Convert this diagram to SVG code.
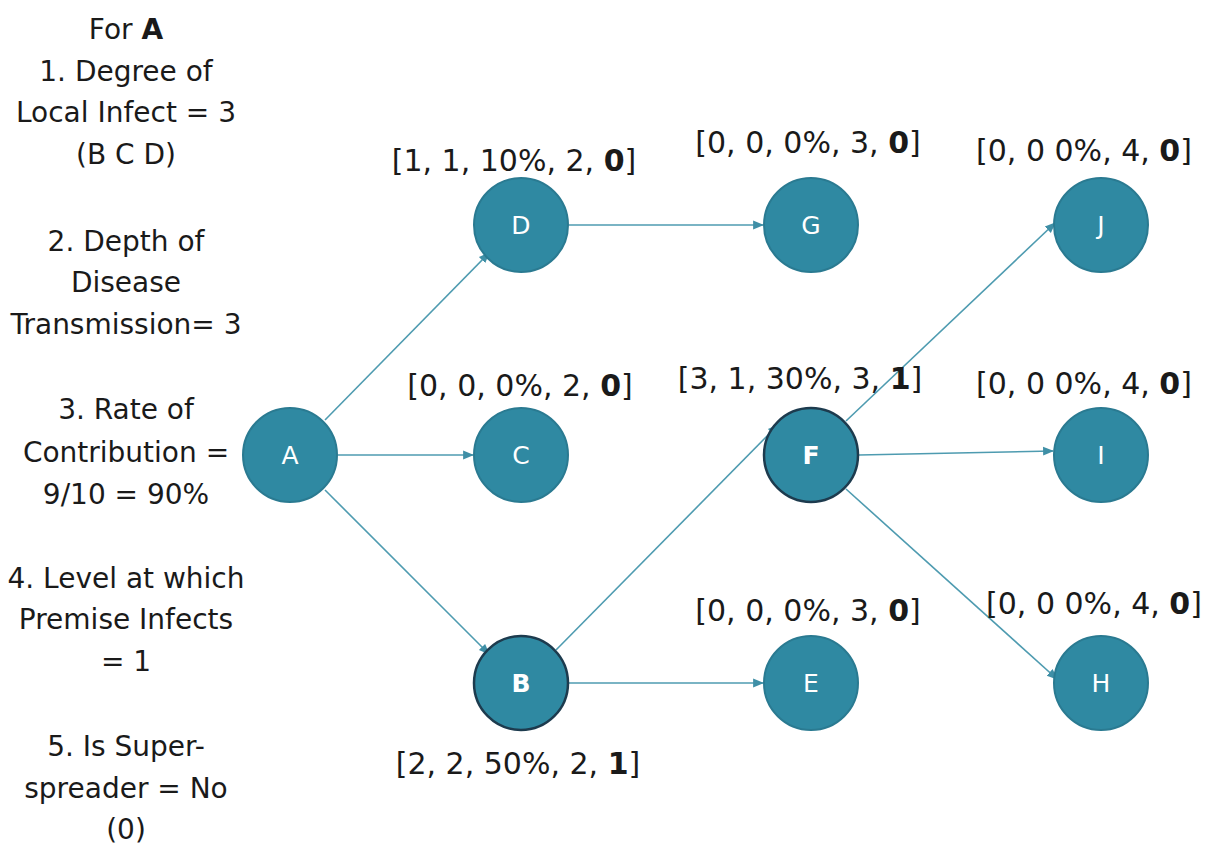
<svg xmlns="http://www.w3.org/2000/svg" width="1205" height="844" viewBox="0 0 1205 844">
  <style>
    .note { font-family: "DejaVu Sans", "Liberation Sans", sans-serif; font-size: 28px; fill: #1a1a1a; text-anchor: middle; }
    .lbl { font-family: "DejaVu Sans", "Liberation Sans", sans-serif; font-size: 30px; fill: #1a1a1a; text-anchor: middle; }
    .node circle { fill: #2F89A2; stroke: #2A7A91; stroke-width: 2; }
    .node.key circle { stroke: #1D3B4E; stroke-width: 2.5; }
    .node text { font-family: "DejaVu Sans", "Liberation Sans", sans-serif; font-size: 25px; fill: #ffffff; text-anchor: middle; }
    .node.key text { font-weight: bold; }
    .edge { stroke: #4E9BB0; stroke-width: 1.6; fill: none; marker-end: url(#arr); }
  </style>
  <defs>
    <marker id="arr" viewBox="0 0 10 10" refX="9" refY="5" markerWidth="11" markerHeight="11" orient="auto" markerUnits="userSpaceOnUse">
      <path d="M0,1 L10,5 L0,9 z" fill="#3F8FA6"/>
    </marker>
  </defs>
  <rect width="1205" height="844" fill="#ffffff"/>

  <!-- summary for node A -->
  <g id="summary">
    <text class="note" x="126" y="39">For <tspan font-weight="bold">A</tspan></text>
    <text class="note" x="126" y="81">1. Degree of</text>
    <text class="note" x="126" y="122">Local Infect = 3</text>
    <text class="note" x="126" y="164">(B C D)</text>
    <text class="note" x="126" y="251">2. Depth of</text>
    <text class="note" x="126" y="292">Disease</text>
    <text class="note" x="126" y="334">Transmission= 3</text>
    <text class="note" x="126" y="419">3. Rate of</text>
    <text class="note" x="126" y="462">Contribution =</text>
    <text class="note" x="126" y="504">9/10 = 90%</text>
    <text class="note" x="126" y="588">4. Level at which</text>
    <text class="note" x="126" y="629">Premise Infects</text>
    <text class="note" x="126" y="671">= 1</text>
    <text class="note" x="126" y="756">5. Is Super-</text>
    <text class="note" x="126" y="798">spreader = No</text>
    <text class="note" x="126" y="839">(0)</text>
  </g>

  <!-- connectors -->
  <g id="edges">
    <line class="edge" x1="325" y1="420" x2="489" y2="253"/>
    <line class="edge" x1="338" y1="455" x2="473" y2="455"/>
    <line class="edge" x1="325" y1="490" x2="489" y2="654"/>
    <line class="edge" x1="569" y1="225" x2="763" y2="225"/>
    <line class="edge" x1="569" y1="683" x2="763" y2="683"/>
    <line class="edge" x1="556" y1="650" x2="778" y2="425"/>
    <line class="edge" x1="846" y1="421" x2="1055" y2="223"/>
    <line class="edge" x1="859" y1="455" x2="1053" y2="451"/>
    <line class="edge" x1="846" y1="489" x2="1057" y2="679"/>
  </g>

  <!-- metric labels -->
  <g id="labels">
    <text class="lbl" x="514" y="171">[1, 1, 10%, 2, <tspan font-weight="bold">0</tspan>]</text>
    <text class="lbl" x="808" y="153">[0, 0, 0%, 3, <tspan font-weight="bold">0</tspan>]</text>
    <text class="lbl" x="1084" y="161">[0, 0 0%, 4, <tspan font-weight="bold">0</tspan>]</text>
    <text class="lbl" x="520" y="396">[0, 0, 0%, 2, <tspan font-weight="bold">0</tspan>]</text>
    <text class="lbl" x="800" y="389">[3, 1, 30%, 3, <tspan font-weight="bold">1</tspan>]</text>
    <text class="lbl" x="1084" y="394">[0, 0 0%, 4, <tspan font-weight="bold">0</tspan>]</text>
    <text class="lbl" x="808" y="621">[0, 0, 0%, 3, <tspan font-weight="bold">0</tspan>]</text>
    <text class="lbl" x="1094" y="614">[0, 0 0%, 4, <tspan font-weight="bold">0</tspan>]</text>
    <text class="lbl" x="518" y="774">[2, 2, 50%, 2, <tspan font-weight="bold">1</tspan>]</text>
  </g>

  <!-- nodes -->
  <g id="node-A" class="node"><circle cx="290" cy="455" r="47"/><text x="290" y="464">A</text></g>
  <g id="node-D" class="node"><circle cx="521" cy="225" r="47"/><text x="521" y="234">D</text></g>
  <g id="node-C" class="node"><circle cx="521" cy="455" r="47"/><text x="521" y="464">C</text></g>
  <g id="node-B" class="node key"><circle cx="521" cy="683" r="47"/><text x="521" y="692">B</text></g>
  <g id="node-G" class="node"><circle cx="811" cy="225" r="47"/><text x="811" y="234">G</text></g>
  <g id="node-F" class="node key"><circle cx="811" cy="455" r="47"/><text x="811" y="464">F</text></g>
  <g id="node-E" class="node"><circle cx="811" cy="683" r="47"/><text x="811" y="692">E</text></g>
  <g id="node-J" class="node"><circle cx="1101" cy="225" r="47"/><text x="1101" y="234">J</text></g>
  <g id="node-I" class="node"><circle cx="1101" cy="455" r="47"/><text x="1101" y="464">I</text></g>
  <g id="node-H" class="node"><circle cx="1101" cy="683" r="47"/><text x="1101" y="692">H</text></g>
</svg>
